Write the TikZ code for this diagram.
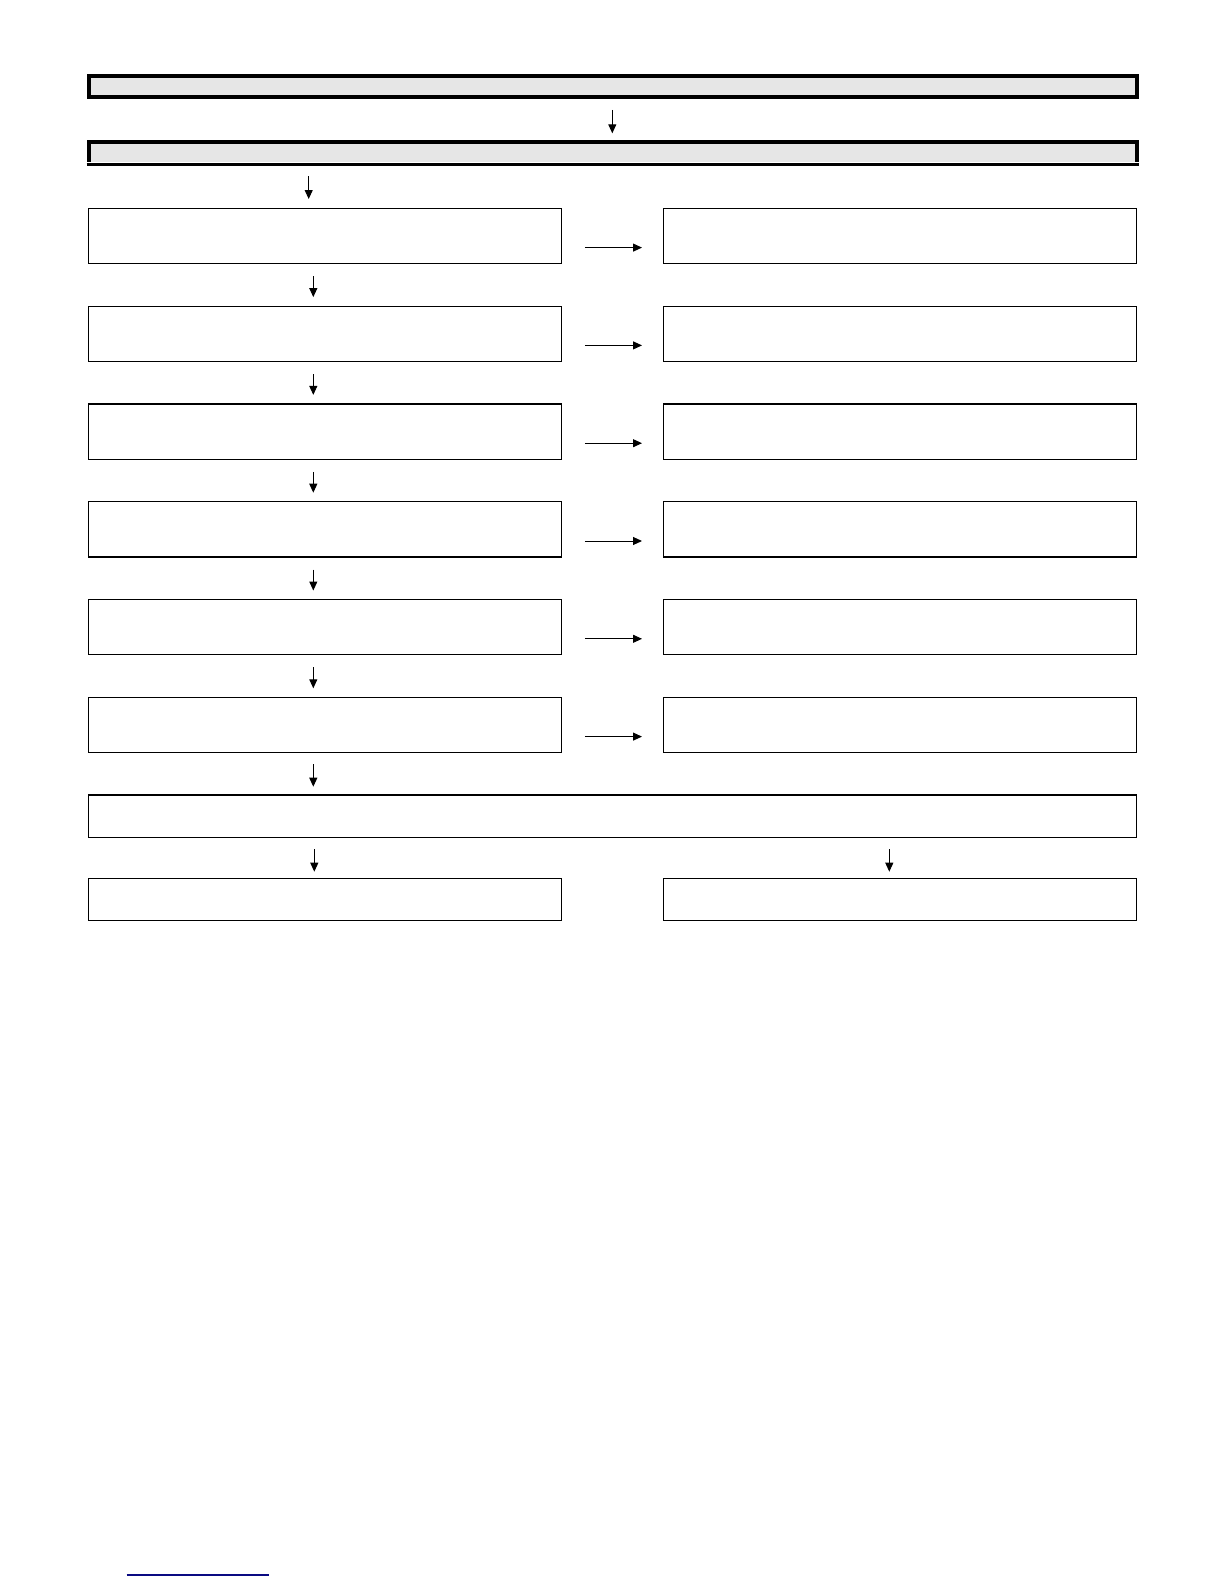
\documentclass[tikz,border=0pt]{standalone}
\usetikzlibrary{arrows.meta}
\definecolor{hdrgray}{RGB}{230,230,230}
\definecolor{navyline}{RGB}{10,10,130}
\begin{document}
\begin{tikzpicture}[x=1pt,y=-1pt,
  box/.style={draw=black,line width=1.2pt,inner sep=0pt,outer sep=0pt,
    minimum width=473.3pt,minimum height=55.2pt,anchor=north west},
  widebox/.style={draw=black,line width=1.2pt,inner sep=0pt,outer sep=0pt,
    minimum width=1048.4pt,anchor=north west},
  hdr/.style={fill=hdrgray,inner sep=0pt,outer sep=0pt,
    minimum width=1048.3pt,anchor=north west},
  arr/.style={line width=1pt,-{Triangle[width=8pt,length=9pt]}}]
\useasboundingbox (0,0) rectangle (1224,1584);

% header boxes
\node[hdr,draw=black,line width=4pt,minimum height=21.3pt] (T1) at (88.7,76) {};
\node[hdr,minimum height=19.5pt] (T2) at (88.7,142) {};
\draw[line width=4pt] (T2.south west) -- (T2.north west) -- (T2.north east) -- (T2.south east);
\draw[line width=3.3pt] ([xshift=-2pt,yshift=-2.8pt]T2.south west) -- ([xshift=2.3pt,yshift=-2.8pt]T2.south east);

% rows of boxes
\foreach \i/\t in {1/208.3,2/306.1,3/403.9,4/501.7,5/599.5,6/697.3}{
  \node[box] (L\i) at (88.3,\t) {};
  \node[box] (R\i) at (663.5,\t) {};
}
\node[widebox,minimum height=42.3pt] (W) at (88.3,795) {};
\node[box,minimum height=42.2pt] (B1) at (88.3,878.3) {};
\node[box,minimum height=42.2pt] (B2) at (663.5,878.3) {};

% x positions of vertical arrows
\coordinate (xm) at (612.3,0);
\coordinate (xa) at (308.7,0);
\coordinate (xb) at (313.3,0);
\coordinate (xc) at (314.3,0);
\coordinate (xd) at (889.3,0);

% vertical arrows
\draw[arr,shorten <=12.7pt,shorten >=8.7pt] (T1.south -| xm) -- (T2.north -| xm);
\draw[arr,shorten <=14.5pt,shorten >=9.3pt] (T2.south -| xa) -- (L1.north -| xa);
\foreach \i/\j in {1/2,2/3,3/4,4/5,5/6}{
  \draw[arr,shorten <=12.7pt,shorten >=9pt] (L\i.south -| xb) -- (L\j.north -| xb);
}
\draw[arr,shorten <=11.7pt,shorten >=8.3pt] (L6.south -| xb) -- (W.north -| xb);
\draw[arr,shorten <=11.7pt,shorten >=6.6pt] (W.south -| xc) -- (B1.north -| xc);
\draw[arr,shorten <=11.7pt,shorten >=6.6pt] (W.south -| xd) -- (B2.north -| xd);

% horizontal arrows
\foreach \i in {1,...,6}{
  \draw[arr,shorten <=23.3pt,shorten >=21.5pt] ([yshift=-39.3pt]L\i.north east) -- ([yshift=-39.3pt]R\i.north west);
}

% blue rule at the foot
\coordinate (f1) at (126.7,1575);
\coordinate (f2) at (269,1575);
\draw[navyline,line width=1.2pt] (f1) -- (f2);
\end{tikzpicture}
\end{document}
